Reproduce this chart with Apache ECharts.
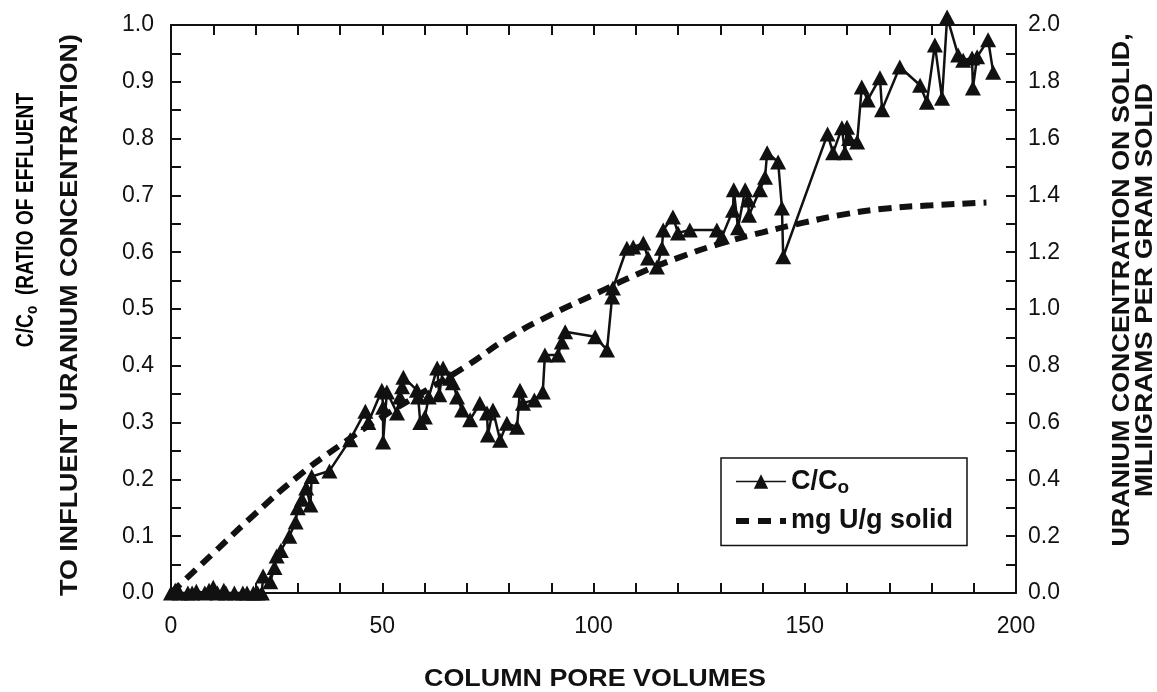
<!DOCTYPE html>
<html>
<head>
<meta charset="utf-8">
<script src="https://cdn.jsdelivr.net/npm/echarts@6/dist/echarts.min.js"></script>
<style>
html,body{margin:0;padding:0;background:#fff;}
#chart{width:1157px;height:692px;}
</style>
</head>
<body>
<div id="chart"></div>
<script>
// C/Co observations: column pore volumes and ratio
var ratioX = [0, 1, 2, 4, 5, 6, 8, 9, 10, 11, 12.5, 13, 15, 17, 18, 19.5, 20.5, 21.5,
  21.8, 23.5, 24.5, 25, 26, 28, 29.5, 30, 31, 32, 33, 33.3, 37.5, 42.4, 46, 46.7,
  49.9, 50.2, 50.2, 51.1, 53.5, 54.2, 54.7, 55, 58.2, 58.5, 59, 60.1, 61, 63, 63.5,
  64.4, 66, 66.7, 67.7, 68.9, 70.8, 73.1, 74.8, 75, 76.2, 77.9, 79.5, 81.9, 82.6,
  83.3, 86, 88, 88.5, 91.6, 92.5, 93.3, 100.4, 103.2, 104.4, 104.6, 107.9, 109.4,
  111.8, 112.9, 115, 116.2, 116.5, 118.8, 120, 122.8, 129.2, 130.4, 133, 133.2, 134.2,
  135.9, 136.6, 136.8, 139.4, 140.6, 141.1, 143.7, 144.6, 144.9, 155.4, 156.7, 158.8,
  159.5, 160, 160.5, 162.4, 163.5, 164.9, 167.8, 168.3, 172.5, 177.3, 178.9, 180.8,
  182.5, 183.7, 186.3, 187.5, 189.6, 189.8, 190.8, 193.4, 194.6];
var ratioY = [0.0, 0.005, 0.0, 0.0, 0.0, 0.003, 0.0, 0.005, 0.01, 0.0, 0.005, 0.0, 0.0, 0.0, 0.0, 0.0, 0.0, 0.0,
  0.03, 0.02, 0.045, 0.065, 0.075, 0.1, 0.125, 0.15, 0.165, 0.185, 0.155, 0.205, 0.215, 0.27, 0.32, 0.30,
  0.357, 0.327, 0.266, 0.354, 0.317, 0.345, 0.363, 0.38, 0.357, 0.345, 0.30, 0.31, 0.345, 0.396, 0.349,
  0.396, 0.378, 0.37, 0.345, 0.322, 0.305, 0.334, 0.317, 0.278, 0.322, 0.269, 0.299, 0.292, 0.357,
  0.334, 0.34, 0.354, 0.419, 0.419, 0.442, 0.46, 0.451, 0.428, 0.521, 0.537, 0.607, 0.609,
  0.616, 0.59, 0.574, 0.607, 0.639, 0.662, 0.634, 0.639, 0.639, 0.627, 0.674, 0.71, 0.643,
  0.71, 0.692, 0.665, 0.71, 0.732, 0.775, 0.759, 0.678, 0.592, 0.808, 0.775, 0.819,
  0.775, 0.82, 0.80, 0.794, 0.891, 0.868, 0.907, 0.851, 0.926, 0.894, 0.864, 0.965,
  0.871, 1.014, 0.947, 0.938, 0.942, 0.889, 0.944, 0.974, 0.917];
// Uranium on solid (mg U/g solid), right axis
var solidX = [0, 5, 10, 20, 30, 40, 50, 60, 70, 80, 90, 100, 110, 120, 130, 140, 150, 160, 170, 180, 193];
var solidY = [0, 0.07, 0.14, 0.28, 0.41, 0.52, 0.62, 0.71, 0.80, 0.90, 0.98, 1.05, 1.12, 1.18, 1.23, 1.27, 1.305, 1.335, 1.355, 1.365, 1.375];
var xTicks = [0, 50, 100, 150, 200];
var leftTicks = [0, 0.1, 0.2, 0.3, 0.4, 0.5, 0.6, 0.7, 0.8, 0.9, 1.0];
var rightTicks = [0, 0.2, 0.4, 0.6, 0.8, 1.0, 1.2, 1.4, 1.6, 1.8, 2.0];

var FONT = '"Liberation Sans", Arial, Helvetica, sans-serif';
var INK = '#111';

var chart = echarts.init(document.getElementById('chart'), null, {renderer: 'canvas'});

function isLabel(v, list) {
  for (var i = 0; i < list.length; i++) { if (Math.abs(v - list[i]) < 1e-6) return true; }
  return false;
}

function makeAxis(extra) {
  var base = {
    type: 'value',
    axisLine: {show: true, onZero: false, lineStyle: {color: INK, width: 2}},
    axisTick: {show: true, inside: true, length: 10, lineStyle: {color: INK, width: 2}},
    splitLine: {show: false}
  };
  return Object.assign(base, extra);
}

var xBottom = makeAxis({
  position: 'bottom', min: 0, max: 200, interval: 10,
  axisLabel: {color: INK, fontSize: 23, fontFamily: FONT, margin: 22,
    formatter: function (v) { return isLabel(v, xTicks) ? String(v) : ''; }}
});
var xTop = makeAxis({position: 'top', min: 0, max: 200, interval: 10, axisLabel: {show: false}});
var yLeft = makeAxis({
  position: 'left', min: 0, max: 1, interval: 0.05,
  axisLabel: {color: INK, fontSize: 23, fontFamily: FONT, margin: 17,
    formatter: function (v) { return isLabel(v, leftTicks) ? v.toFixed(1) : ''; }}
});
var yRight = makeAxis({
  position: 'right', min: 0, max: 2, interval: 0.1,
  axisLabel: {color: INK, fontSize: 23, fontFamily: FONT, margin: 12,
    formatter: function (v) { return isLabel(v, rightTicks) ? v.toFixed(1) : ''; }}
});

var titleRich = {
  b: {fontSize: 24, fontWeight: 'bold', fontFamily: FONT, color: INK},
  s: {fontSize: 17, fontWeight: 'bold', fontFamily: FONT, color: INK, padding: [12, 0, 0, 0]}
};
var legendRich = {
  b: {fontSize: 27, fontWeight: 'bold', fontFamily: FONT, color: INK},
  s: {fontSize: 19, fontWeight: 'bold', fontFamily: FONT, color: INK, padding: [13, 0, 0, 0]}
};
var TF = 'bold 24px ' + FONT;

chart.setOption({
  animation: false,
  backgroundColor: '#fff',
  grid: {left: 171, right: 141, top: 25, bottom: 99, containLabel: false},
  xAxis: [xBottom, xTop],
  yAxis: [yLeft, yRight],
  legend: {
    orient: 'vertical', left: 721, top: 458,
    backgroundColor: '#fff',
    borderColor: INK, borderWidth: 1.5, borderRadius: 0,
    padding: [10, 14, 11, 12], itemGap: 10,
    itemWidth: 50, itemHeight: 18,
    data: [
      {name: 'C/Co', lineStyle: {width: 1.5}},
      {name: 'mg U/g solid', itemStyle: {opacity: 0}, lineStyle: {width: 6, type: [13, 9]}}
    ],
    formatter: function (name) {
      return name === 'C/Co' ? '{b|C/C}{s|o}' : '{b|mg U/g solid}';
    },
    textStyle: {rich: legendRich, color: INK}
  },
  graphic: [
    {type: 'text', x: 595, y: 679, scaleX: 1.12,
      style: {text: 'COLUMN PORE VOLUMES', font: TF, fill: INK, align: 'center', verticalAlign: 'middle'}},
    {type: 'text', x: 26, y: 220, rotation: Math.PI / 2, scaleX: 0.8,
      style: {text: '{b|C/C}{s|o}{b|  (RATIO OF EFFLUENT}', rich: titleRich, align: 'center', verticalAlign: 'middle'}},
    {type: 'text', x: 70, y: 315, rotation: Math.PI / 2, scaleX: 1.12,
      style: {text: 'TO INFLUENT URANIUM CONCENTRATION)', font: TF, fill: INK, align: 'center', verticalAlign: 'middle'}},
    {type: 'text', x: 1122, y: 290, rotation: Math.PI / 2, scaleX: 1.12,
      style: {text: 'URANIUM CONCENTRATION ON SOLID,', font: TF, fill: INK, align: 'center', verticalAlign: 'middle'}},
    {type: 'text', x: 1145, y: 290, rotation: Math.PI / 2, scaleX: 1.15,
      style: {text: 'MILIIGRAMS PER GRAM SOLID', font: TF, fill: INK, align: 'center', verticalAlign: 'middle'}}
  ],
  series: [
    {
      name: 'mg U/g solid', type: 'line', xAxisIndex: 0, yAxisIndex: 1,
      data: solidX.map(function (x, i) { return [x, solidY[i]]; }),
      smooth: true, symbol: 'none', z: 2,
      lineStyle: {color: INK, width: 6, type: [13, 8]},
      itemStyle: {color: INK}
    },
    {
      name: 'C/Co', type: 'line', xAxisIndex: 0, yAxisIndex: 0, clip: false,
      data: ratioX.map(function (x, i) { return [x, ratioY[i]]; }),
      symbol: 'triangle', symbolSize: [16, 15], showAllSymbol: true, z: 3,
      lineStyle: {color: INK, width: 2.5},
      itemStyle: {color: INK}
    }
  ]
});
</script>
</body>
</html>
